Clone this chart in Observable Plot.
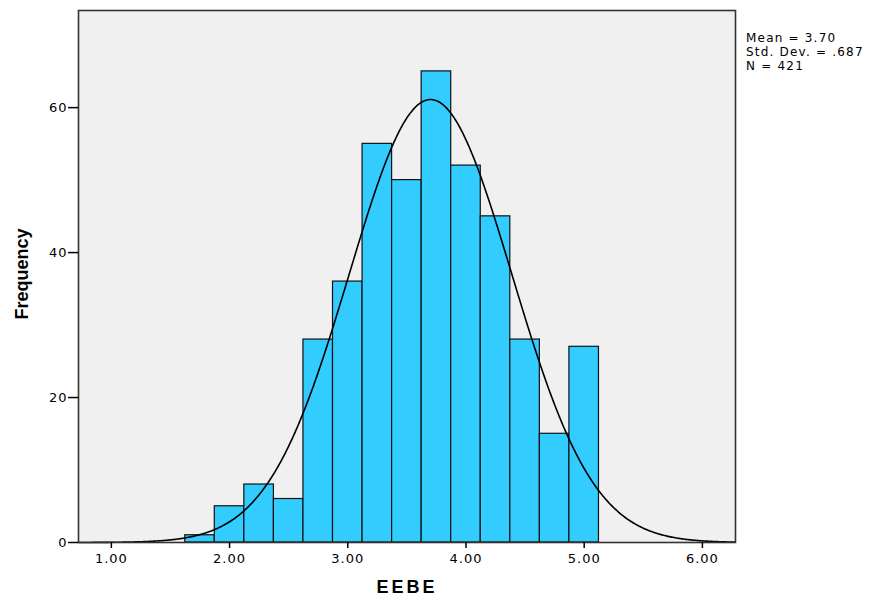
<!DOCTYPE html>
<html><head><meta charset="utf-8">
<script src="https://cdn.jsdelivr.net/npm/d3@7"></script>
<script src="https://cdn.jsdelivr.net/npm/@observablehq/plot@0.6"></script>
<style>
body{margin:0;background:#fff;}
#wrap{position:relative;width:871px;height:601px;font-family:"Liberation Sans",Arial,sans-serif;}
.lab{position:absolute;color:#000;}
</style>
</head><body>
<div id="wrap"></div>
<script>
// Histogram bins (lower/upper edges) and frequencies
const binLo = [1.625,1.875,2.125,2.375,2.625,2.875,3.125,3.375,3.625,3.875,4.125,4.375,4.625,4.875];
const binHi = [1.875,2.125,2.375,2.625,2.875,3.125,3.375,3.625,3.875,4.125,4.375,4.625,4.875,5.125];
const counts = [1,5,8,6,28,36,55,50,65,52,45,28,15,27];
const xTicks = [1,2,3,4,5,6];
const yTicks = [0,20,40,60];
const mean = 3.70, sd = 0.687, N = 421, binWidth = 0.25;
const statLines = ["Mean = 3.70","Std. Dev. = .687","N = 421"];

const bars = counts.map((c,i)=>({x1:binLo[i],x2:binHi[i],y:c}));
const curve = d3.range(0.72, 6.28, 0.01).map(x=>({x, y: N*binWidth/(sd*Math.sqrt(2*Math.PI))*Math.exp(-0.5*((x-mean)/sd)**2)}));

const plot = Plot.plot({
  width: 871, height: 601,
  marginLeft: 78, marginRight: 136, marginTop: 10, marginBottom: 59,
  style: {fontFamily:'"DejaVu Sans",sans-serif', fontSize:"13px", letterSpacing:"1px", color:"#000", background:"#fff"},
  x: {domain:[0.722, 6.28], ticks: xTicks, tickFormat: d3.format(".2f"), label:null},
  y: {domain:[0, 73.4], ticks: yTicks, label:null},
  marks: [
    Plot.frame({fill:"#f0f0f0"}),
    Plot.rectY(bars, {x1:"x1", x2:"x2", y:"y", fill:"#33ccff", stroke:"#111", strokeWidth:1.2, inset:0}),
    Plot.line(curve, {x:"x", y:"y", stroke:"#000", strokeWidth:1.6, curve:"basis"}),
    Plot.frame({stroke:"#333", strokeWidth:1.6}),
    Plot.axisX({ticks:xTicks, tickFormat:d3.format(".2f"), tickSize:6, tickPadding:5, strokeWidth:1.5, label:null}),
    Plot.axisY({ticks:yTicks, tickSize:10, tickPadding:1, strokeWidth:1.5, label:null})
  ]
});
const wrap = document.getElementById("wrap");
wrap.appendChild(plot);

function addLabel(text, css){
  const d = document.createElement("div");
  d.className = "lab"; d.textContent = text;
  Object.assign(d.style, css);
  wrap.appendChild(d);
}
addLabel("Frequency", {left:"22px", top:"274px", transform:"translate(-50%,-50%) rotate(-90deg)", fontWeight:"bold", fontSize:"18px", whiteSpace:"nowrap"});
addLabel("EEBE", {left:"407px", top:"587px", transform:"translate(-50%,-50%)", fontWeight:"bold", fontSize:"18px", letterSpacing:"3px"});
statLines.forEach((s,i)=>addLabel(s, {left:"746px", top:(31+i*14)+"px", fontFamily:'"DejaVu Sans",sans-serif', fontSize:"12px", letterSpacing:"1.2px", lineHeight:"14px", whiteSpace:"nowrap"}));
</script>
</body></html>
